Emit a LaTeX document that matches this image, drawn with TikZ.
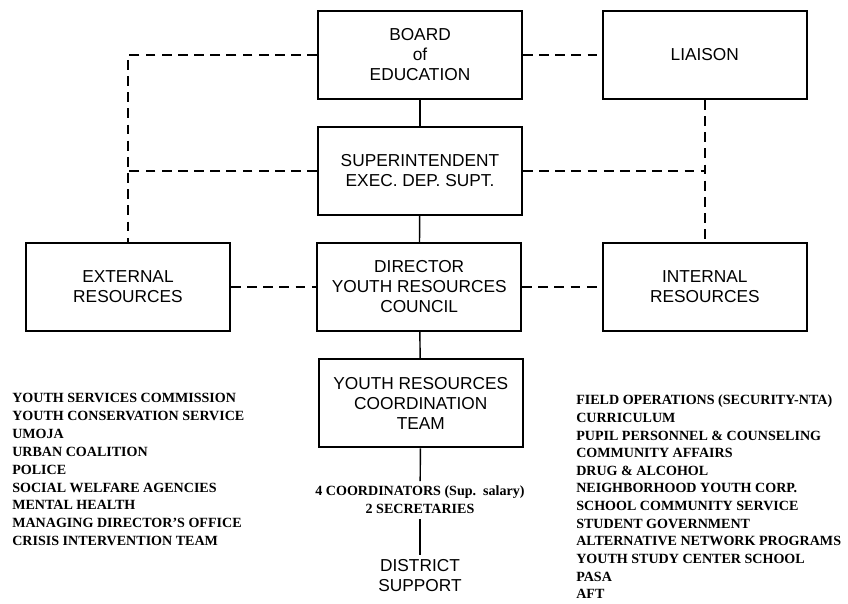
\documentclass[tikz,border=0pt]{standalone}
\usepackage{fontspec}
\setmainfont{Liberation Serif}
\newfontfamily\boxfont{Liberation Sans}

\begin{document}
\begin{tikzpicture}[
    box/.style={draw, line width=1.3pt, minimum width=5.1cm, minimum height=2.2cm,
        align=center, font=\boxfont\fontsize{12.3}{14.2}\selectfont},
    boxtext/.style={align=center, font=\boxfont\fontsize{12.3}{14.2}\selectfont},
    solidline/.style={line width=1pt},
    dashline/.style={line width=1.1pt, dash pattern=on 7pt off 4.5pt},
    item/.style={anchor=base west, inner sep=0pt, font=\bfseries\fontsize{10}{12}\selectfont}
]
\useasboundingbox (0,0) rectangle (21.2,15.075);

% top row
\node[box] (board) at (10.5,13.7) {BOARD\\of\\EDUCATION};
\node[box] (liaison) at (17.62,13.7) {LIAISON};

% middle rows
\node[box] (super) at (10.5,10.8) {SUPERINTENDENT\\EXEC. DEP. SUPT.};
\node[box] (external) at (3.2,7.9) {EXTERNAL\\RESOURCES};
\node[box] (director) at (10.48,7.9) {DIRECTOR\\YOUTH RESOURCES\\COUNCIL};
\node[box] (internal) at (17.62,7.9) {INTERNAL\\RESOURCES};
\node[box] (team) at (10.52,4.99) {YOUTH RESOURCES\\COORDINATION\\TEAM};

% staff and district
\node[align=center, font=\bfseries\fontsize{10}{12.8}\selectfont] (staff) at (10.5,2.575)
    {4 COORDINATORS (Sup.\ \ salary)\\2 SECRETARIES};
\node[boxtext] (district) at (10.5,0.675) {DISTRICT\\SUPPORT};

% solid lines
\draw[solidline] (board) -- (super);
\draw[solidline] (super) -- (director);
\draw[solidline] (director) -- (team);
\draw[solidline] (team) -- (staff);
\draw[solidline] (staff) -- (district);

% dashed lines
\coordinate (leftjoin) at (super.west -| external.north);
\coordinate (rightjoin) at (super.east -| liaison.south);
\draw[dashline] (board.west) -| (external.north);
\draw[dashline] (super.west) -- (leftjoin);
\draw[dashline] (board.east) -- (liaison.west);
\draw[dashline] (liaison.south) -- (internal.north);
\draw[dashline] (super.east) -- (rightjoin);
\draw[dashline] (external.east) -- (director.west);
\draw[dashline] (director.east) -- (internal.west);

% external resources list
\foreach \txt [count=\i from 0] in {YOUTH SERVICES COMMISSION, YOUTH CONSERVATION SERVICE,
    UMOJA, URBAN COALITION, POLICE, SOCIAL WELFARE AGENCIES, MENTAL HEALTH,
    MANAGING DIRECTOR'S OFFICE, CRISIS INTERVENTION TEAM}
{
    \node[item] (ext\i) at (0.3, 5.0-0.445*\i) {\txt};
}

% internal resources list
\foreach \txt [count=\i from 0] in {FIELD OPERATIONS (SECURITY-NTA), CURRICULUM,
    PUPIL PERSONNEL \& COUNSELING, COMMUNITY AFFAIRS, DRUG \& ALCOHOL,
    NEIGHBORHOOD YOUTH CORP., SCHOOL COMMUNITY SERVICE, STUDENT GOVERNMENT,
    ALTERNATIVE NETWORK PROGRAMS, YOUTH STUDY CENTER SCHOOL, PASA, AFT}
{
    \node[item] (int\i) at (14.4, 4.95-0.44*\i) {\txt};
}

\end{tikzpicture}
\end{document}
